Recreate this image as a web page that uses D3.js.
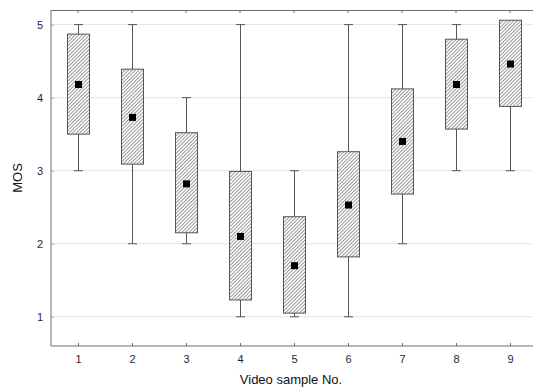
<!DOCTYPE html>
<html><head><meta charset="utf-8">
<script src="https://cdn.jsdelivr.net/npm/d3@7"></script>
<style>body{margin:0;background:#fff}svg{display:block}</style>
</head><body>
<svg id="c" width="533" height="389"></svg>
<script>
const samples = [1,2,3,4,5,6,7,8,9];
const whiskerLow  = [3,2,2,1,1,1,2,3,3];
const whiskerHigh = [5,5,4,5,3,5,5,5,5];
const boxLow  = [3.50,3.09,2.15,1.23,1.05,1.82,2.68,3.57,3.88];
const boxHigh = [4.87,4.39,3.52,2.99,2.37,3.26,4.12,4.80,5.06];
const means   = [4.18,3.73,2.82,2.10,1.70,2.53,3.40,4.18,4.46];
const yTicks = [1,2,3,4,5];

const svg = d3.select("#c");
const x = d3.scaleLinear().domain([0.5,9.5]).range([51,537]);
const y = d3.scaleLinear().domain([0.6,5.2]).range([346,10]);

const defs = svg.append("defs");
const pat = defs.append("pattern").attr("id","hatch").attr("patternUnits","userSpaceOnUse")
  .attr("width",2.5).attr("height",2.5).attr("patternTransform","rotate(45)");
pat.append("rect").attr("width",2.5).attr("height",2.5).attr("fill","#fff");
pat.append("line").attr("x1",0.5).attr("y1",0).attr("x2",0.5).attr("y2",2.5)
  .attr("stroke","#808080").attr("stroke-width",0.8);

// grid
svg.append("g").selectAll("line").data(yTicks).join("line")
  .attr("x1",51).attr("x2",533).attr("y1",d=>y(d)).attr("y2",d=>y(d))
  .attr("stroke","#e4e4e4").attr("stroke-width",1);

const axisColor = "#6e6e6e";
// frame top
svg.append("line").attr("x1",51).attr("x2",533).attr("y1",10.5).attr("y2",10.5).attr("stroke",axisColor);

// y axis
const ya = svg.append("g").attr("transform","translate(51,0)")
  .call(d3.axisLeft(y).tickValues(yTicks).tickSize(-3).tickPadding(8).tickFormat(d3.format("d")));
ya.select(".domain").remove();
ya.selectAll(".tick line").attr("stroke","#bbb");
ya.selectAll("text").attr("font-family","Liberation Sans, Arial, sans-serif").attr("font-size",11).attr("fill","#1f1f3a");
svg.append("line").attr("x1",51).attr("x2",51).attr("y1",10).attr("y2",346).attr("stroke",axisColor);

// x axis
const xa = svg.append("g").attr("transform","translate(0,346)")
  .call(d3.axisBottom(x).tickValues(samples).tickSize(-3).tickPadding(9).tickFormat(d3.format("d")));
xa.select(".domain").remove();
xa.selectAll(".tick line").attr("stroke",axisColor);
xa.selectAll("text").attr("font-family","Liberation Sans, Arial, sans-serif").attr("font-size",11).attr("fill","#1f1f3a");
svg.append("line").attr("x1",51).attr("x2",533).attr("y1",346).attr("y2",346).attr("stroke",axisColor);
// top ticks
svg.append("g").selectAll("line").data(samples).join("line")
  .attr("x1",d=>x(d)).attr("x2",d=>x(d)).attr("y1",10).attr("y2",13).attr("stroke",axisColor);

// boxes
const bw = 22, cw = 9;
const g = svg.append("g");
samples.forEach((s,i)=>{
  const cx = Math.round(x(s))+0.5;
  g.append("line").attr("x1",cx).attr("x2",cx).attr("y1",y(whiskerLow[i])).attr("y2",y(whiskerHigh[i]))
    .attr("stroke","#555").attr("stroke-width",1);
  [whiskerLow[i],whiskerHigh[i]].forEach(v=>{
    g.append("line").attr("x1",cx-cw/2).attr("x2",cx+cw/2).attr("y1",y(v)).attr("y2",y(v))
      .attr("stroke","#555").attr("stroke-width",1);
  });
  g.append("rect").attr("x",cx-bw/2).attr("width",bw)
    .attr("y",y(boxHigh[i])).attr("height",y(boxLow[i])-y(boxHigh[i]))
    .attr("fill","url(#hatch)").attr("stroke","#555").attr("stroke-width",1);
  g.append("rect").attr("x",cx-3.5).attr("y",y(means[i])-3.5).attr("width",7).attr("height",7).attr("fill","#000");
});

// labels
svg.append("text").attr("x",291).attr("y",384).attr("text-anchor","middle")
  .attr("font-family","Liberation Sans, Arial, sans-serif").attr("font-size",13).attr("fill","#111").text("Video sample No.");
svg.append("text").attr("transform","translate(22,178) rotate(-90)").attr("text-anchor","middle")
  .attr("font-family","Liberation Sans, Arial, sans-serif").attr("font-size",13).attr("fill","#111").text("MOS");
</script>
</body></html>
